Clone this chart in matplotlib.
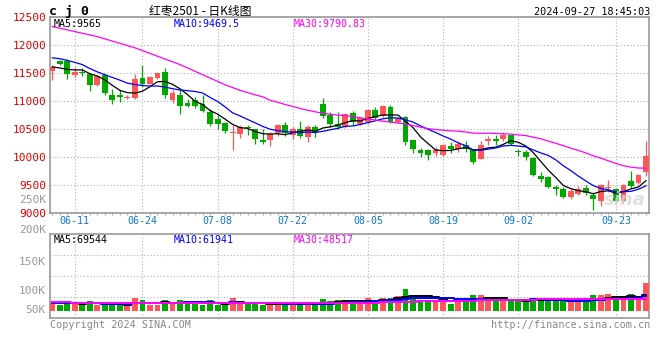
import numpy as np
import pandas as pd
import matplotlib
matplotlib.use("Agg")
from matplotlib import pyplot as plt

# ---- data (80 trading days, 2024-06-05 .. 2024-09-27)
opens = [11540, 11710, 11720, 11460, 11520, 11490, 11280, 11470, 11113, 11113,
         11060, 11060, 11410, 11310, 11410, 11520, 11024, 11100, 10970, 11010,
         10950, 10800, 10685, 10610, 10430, 10417, 10530, 10494, 10298, 10298,
         10434, 10577, 10387, 10494, 10357, 10536, 10952, 10744, 10595, 10536,
         10786, 10595, 10625, 10833, 10732, 10893, 10630, 10714, 10298, 10119,
         10119, 10072, 10042, 10196, 10149, 10220, 10119, 9970, 10280, 10315,
         10315, 10387, 10095, 10089, 9988, 9661, 9643, 9470, 9435, 9292,
         9345, 9446, 9327, 9208, 9440, 9423, 9208, 9565, 9530, 9732]
highs = [11650, 11730, 11755, 11600, 11590, 11500, 11460, 11490, 11220, 11190,
         11110, 11490, 11650, 11450, 11520, 11595, 11200, 11190, 11040, 11070,
         11110, 10860, 10745, 10620, 10566, 10565, 10565, 10500, 10494, 10446,
         10595, 10625, 10536, 10637, 10565, 10565, 11054, 10804, 10804, 10786,
         10815, 10720, 10860, 10893, 10935, 10923, 10700, 10732, 10310, 10160,
         10150, 10180, 10238, 10268, 10280, 10280, 10149, 10280, 10375, 10399,
         10446, 10399, 10149, 10119, 10000, 9732, 9660, 9506, 9464, 9446,
         9482, 9494, 9375, 9524, 9583, 9446, 9524, 9744, 9697, 10280]
lows = [11380, 11640, 11387, 11430, 11450, 11170, 11270, 11100, 10952, 10980,
        11030, 11040, 11250, 11300, 11400, 11055, 10970, 10770, 10890, 10870,
        10800, 10550, 10505, 10435, 10131, 10345, 10387, 10226, 10238, 10190,
        10375, 10375, 10327, 10340, 10268, 10357, 10696, 10536, 10506, 10518,
        10565, 10580, 10595, 10655, 10714, 10613, 10610, 10220, 10077, 10000,
        9940, 10018, 10018, 10077, 10089, 10089, 9869, 9958, 10208, 10220,
        10286, 10208, 10018, 9940, 9661, 9554, 9446, 9315, 9274, 9244,
        9315, 9327, 9048, 9125, 9375, 9196, 9185, 9446, 9518, 9661]
closes = [11610, 11655, 11488, 11515, 11505, 11280, 11440, 11143, 11024, 11065,
          11075, 11400, 11310, 11430, 11505, 11100, 11143, 10910, 10910, 10910,
          10820, 10595, 10595, 10460, 10440, 10536, 10520, 10315, 10268, 10411,
          10565, 10434, 10494, 10375, 10542, 10446, 10732, 10595, 10536, 10762,
          10625, 10696, 10833, 10696, 10905, 10625, 10690, 10268, 10137, 10077,
          10030, 10119, 10208, 10149, 10226, 10137, 9911, 10220, 10327, 10280,
          10387, 10238, 10085, 9994, 9685, 9601, 9464, 9423, 9286, 9399,
          9423, 9363, 9244, 9494, 9458, 9208, 9506, 9482, 9673, 10018]
volumes = [42600, 26900, 45800, 34800, 26900, 45800, 30000, 37900, 26900, 27000,
           27000, 60000, 50600, 30000, 30000, 50600, 41000, 50600, 38000, 35000,
           30000, 50600, 30000, 30000, 60000, 35000, 35000, 35000, 30000, 30000,
           35000, 30000, 30000, 35000, 30000, 35000, 55000, 45800, 53700, 45800,
           45800, 38000, 63000, 45800, 60000, 60000, 71000, 102700, 71000, 53700,
           53700, 45800, 53700, 33000, 45800, 53700, 74000, 74000, 53700, 53700,
           45800, 45800, 53700, 45800, 60000, 53700, 45800, 53700, 45800, 45800,
           45800, 45800, 74000, 74000, 79000, 63000, 53700, 79000, 53700, 132700]

# moving-average values before enough candles exist in the window
ma5_head = [11610, 11590, 11565, 11555]
ma10_head = [11770, 11755, 11725, 11690, 11650, 11580, 11520, 11470, 11420]
ma30_head = [12330, 12300, 12270, 12240, 12210, 12180, 12150, 12110, 12070, 12030,
             11990, 11950, 11900, 11850, 11800, 11750, 11700, 11650, 11590, 11530,
             11470, 11410, 11350, 11290, 11240, 11190, 11150, 11110, 11075]
vma5_head = [38000, 37000, 37000, 36000]
vma10_head = [40000, 39000, 38000, 37000, 37000, 36000, 36000, 35000, 35000]
vma30_head = [44000, 41000, 40500, 40000, 39500, 39500, 39000, 39000, 39000, 38500,
              38500, 38000, 38000, 38000, 37500, 37500, 37500, 37500, 37500, 37500,
              37500, 37500, 37500, 37500, 37500, 37500, 37500, 37500, 37500]

tick_idx = [3, 12, 22, 32, 42, 52, 62, 75]
tick_labels = ["06-11", "06-24", "07-08", "07-22", "08-05", "08-19", "09-02", "09-23"]
price_ticks = [9000, 9500, 10000, 10500, 11000, 11500, 12000, 12500]
vol_labels = ["250K", "200K", "150K", "100K", "50K"]


def with_head(values, n, head):
    s = pd.Series(values, dtype=float).rolling(n).mean()
    s.iloc[:len(head)] = head
    return s.values


UP, DOWN = "#ff5757", "#00a800"
GRID = "#b0b0b0"
MONO = "DejaVu Sans Mono"
W, H = 660, 360


def fx(px):
    return px / W


def fy(py):
    return 1 - py / H


o, h, l, c = map(np.array, (opens, highs, lows, closes))
v = np.array(volumes, dtype=float)
x = np.arange(len(c))
cols = np.where(c >= o, UP, DOWN)

fig = plt.figure(figsize=(6.6, 3.6), dpi=100)
fig.patch.set_facecolor("white")
ax = fig.add_axes([fx(50), fy(213), fx(599), (213 - 17) / H])
axv = fig.add_axes([fx(50), fy(318), fx(599), (318 - 234) / H])

# ---- price panel
ax.vlines(x, l, h, color=cols, lw=0.9, zorder=3)
ax.bar(x, np.maximum(np.abs(c - o), 16), bottom=np.minimum(o, c), width=0.78,
       color=cols, linewidth=0, zorder=4)
ax.plot(x, with_head(closes, 5, ma5_head), color="black", lw=0.9, zorder=5)
ax.plot(x, with_head(closes, 10, ma10_head), color="#0000ff", lw=0.9, zorder=5)
ax.plot(x, with_head(closes, 30, ma30_head), color="#ff00ff", lw=0.9, zorder=5)

ax.set_xlim(-0.3, 79.4)
ax.set_ylim(9000, 12500)
ax.set_yticks(price_ticks)
ax.set_yticklabels([str(t) for t in price_ticks], color="#e00000",
                   fontfamily=MONO, fontsize=8)
ax.set_xticks(tick_idx)
ax.set_xticklabels(tick_labels, color="#0a78c8", fontfamily=MONO, fontsize=7.2)
ax.set_xticks(x, minor=True)
ax.tick_params(axis="both", which="major", length=0, pad=2.5)
ax.tick_params(axis="x", which="minor", length=1.5, width=0.6, color="#999999")
ax.tick_params(axis="y", which="minor", length=0)
ax.grid(True, color=GRID, linestyle=(0, (1, 2)), lw=0.8)
ax.set_axisbelow(True)

# ---- volume panel
vlo, vhi = -33000, 365000
axv.bar(x, v, width=0.78, color=cols, linewidth=0, zorder=3)
axv.plot(x, with_head(volumes, 5, vma5_head), color="black", lw=1.4,
         drawstyle="steps-mid", zorder=5)
axv.plot(x, with_head(volumes, 10, vma10_head), color="#0000ff", lw=1.4,
         drawstyle="steps-mid", zorder=5)
axv.plot(x, with_head(volumes, 30, vma30_head), color="#ff00ff", lw=1.4,
         drawstyle="steps-mid", zorder=5)
axv.set_xlim(-0.3, 79.4)
axv.set_ylim(vlo, vhi)
axv.set_yticks([vlo + f * (vhi - vlo) for f in (0.25, 0.5, 0.75)])
axv.set_yticklabels([])
axv.set_xticks(tick_idx)
axv.set_xticklabels([])
axv.tick_params(length=0)
axv.grid(True, color=GRID, linestyle=(0, (1, 2)), lw=0.8)
axv.set_axisbelow(True)

for a in (ax, axv):
    for s in a.spines.values():
        s.set_color("#999999")
        s.set_linewidth(1.2)

# volume labels sit where the original puts them
for lab, py in zip(vol_labels, [200, 230, 262, 291, 310]):
    fig.text(fx(46), fy(py), lab, ha="right", va="center", color="#999999",
             fontfamily=MONO, fontsize=8)

# ---- header texts
fig.text(fx(49), fy(11), "c j 0", ha="left", va="center", fontfamily=MONO,
         fontsize=9.5, fontweight="bold")
fig.text(fx(200), fy(11), "红枣2501 - 日K线图", ha="center", va="center",
         family=["Noto Sans CJK SC", "DejaVu Sans"], fontsize=8.5)
fig.text(fx(650), fy(12), "2024-09-27 18:45:03", ha="right", va="center",
         fontfamily=MONO, fontsize=7.3)

fig.text(fx(54), fy(24), "MA5:9565", color="black", fontfamily=MONO, fontsize=7.2, va="center")
fig.text(fx(174), fy(24), "MA10:9469.5", color="#0000ff", fontfamily=MONO, fontsize=7.2, va="center")
fig.text(fx(294), fy(24), "MA30:9790.83", color="#ff00ff", fontfamily=MONO, fontsize=7.2, va="center")
fig.text(fx(54), fy(240), "MA5:69544", color="black", fontfamily=MONO, fontsize=7.2, va="center")
fig.text(fx(174), fy(240), "MA10:61941", color="#0000ff", fontfamily=MONO, fontsize=7.2, va="center")
fig.text(fx(294), fy(240), "MA30:48517", color="#ff00ff", fontfamily=MONO, fontsize=7.2, va="center")

fig.text(fx(625), fy(200), "sina", ha="center", va="center", color="#d8d8d8",
         fontsize=13, fontstyle="italic", fontweight="bold", alpha=0.8, zorder=0)

fig.text(fx(50), fy(325), "Copyright 2024 SINA.COM", color="#888888",
         fontfamily=MONO, fontsize=7.3, va="center")
fig.text(fx(650), fy(325), "http://finance.sina.com.cn", color="#888888",
         fontfamily=MONO, fontsize=7.3, va="center", ha="right")

fig.savefig("out.png", dpi=100)
